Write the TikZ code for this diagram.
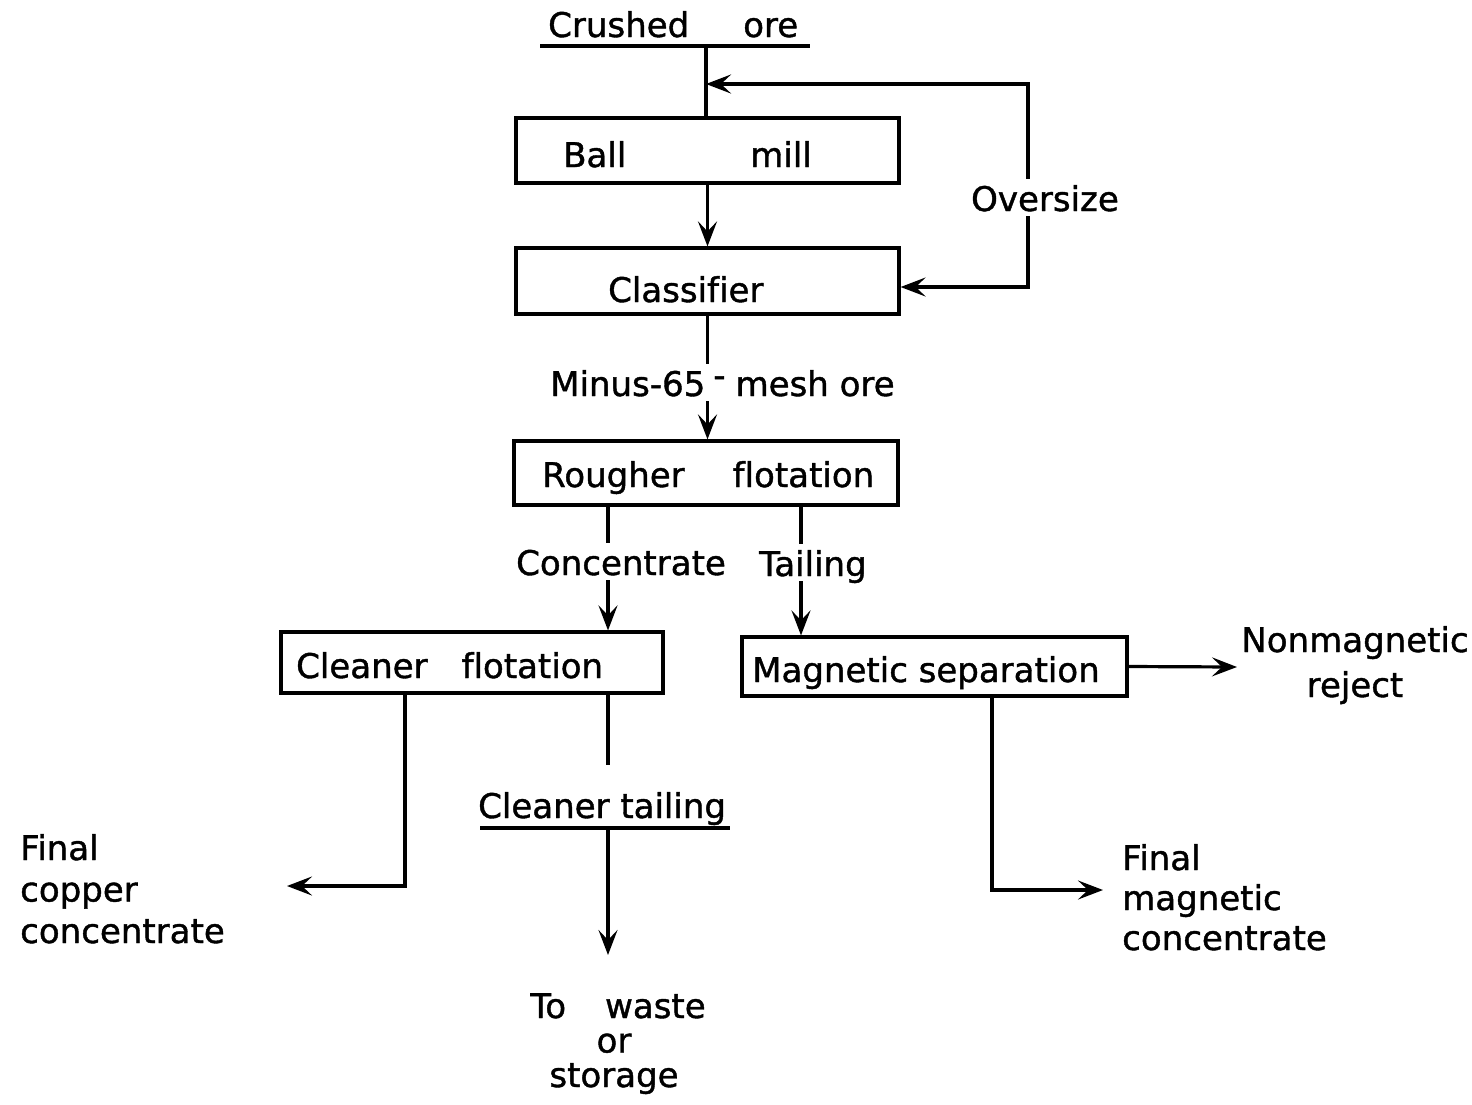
\documentclass[tikz,border=0pt]{standalone}
\usepackage{fontspec}
\setmainfont[Ligatures=NoCommon, FakeBold=1.2]{DejaVu Sans}
\usetikzlibrary{arrows.meta}
\begin{document}
\begin{tikzpicture}[x=1pt,y=-1pt,
  every node/.style={font=\fontsize{34}{41}\selectfont, inner sep=0pt},
  box/.style={draw, line width=3.2pt, rectangle},
  flow/.style={line width=3.2pt},
  tip/.tip={Stealth[length=25pt,width=19pt,inset=10pt]},
  arr/.style={flow, -tip},
  gaplabel/.style={fill=white, text height=27pt, text depth=0pt, inner xsep=2pt, inner ysep=5pt},
]
\useasboundingbox (0,0) rectangle (1472,1104);

% boxes
\node[box, minimum width=383pt, minimum height=65pt] (ball) at (707.5,150.5) {};
\node[box, minimum width=383pt, minimum height=66pt] (class) at (707.5,281) {};
\node[box, minimum width=384pt, minimum height=64pt] (rough) at (706,473) {};
\node[box, minimum width=382pt, minimum height=61pt] (clean) at (472,662.5) {};
\node[box, minimum width=385pt, minimum height=59pt] (mag) at (934.5,666.5) {};

% box texts
\node[anchor=base west] (ballT) at (563,167) {Ball\hspace{124pt}mill};
\node[anchor=base west] (classT) at (608,302) {Classifier};
\node[anchor=base west] (roughT) at (542,487) {Rougher\hspace{48pt}flotation};
\node[anchor=base west] (cleanT) at (296,678) {Cleaner\hspace{34pt}flotation};
\node[anchor=base west] (magT) at (752,682) {Magnetic separation};

% feed
\node[anchor=base west] (crushed) at (548,37) {Crushed\hspace{54pt}ore};
\coordinate (coreL) at (540,46);
\coordinate (coreR) at (810,46);
\coordinate (feedTop) at (706,46);
\draw[flow] (coreL) -- (coreR);
\draw[flow] (feedTop) -- (feedTop |- ball.north);

% oversize loop
\coordinate (feedJoin) at (706,84);
\coordinate (ovTop) at (1028,84);
\coordinate (ovBot) at (1028,287);
\draw[flow, tip-tip] (feedJoin) -- (ovTop) -- (ovBot) -- (ovBot -| class.east);
\node[gaplabel, anchor=base] (oversize) at (1045,211) {Oversize};

% ball -> classifier
\draw[arr] (ball.south) -- (class.north);

% classifier -> rougher
\draw[arr] (class.south) -- (class.south |- rough.north);
\node[gaplabel, anchor=base west] (minus) at (548,396) {Minus-65\hspace{8pt}\raisebox{9pt}{-}\hspace{10pt}mesh ore};

% rougher -> cleaner / magnetic
\coordinate (concX) at (608,0);
\coordinate (tailX) at (801,0);
\draw[arr] (concX |- rough.south) -- (concX |- clean.north);
\draw[arr] (tailX |- rough.south) -- (tailX |- mag.north);
\node[gaplabel, anchor=base west] (conc) at (514,575) {Concentrate};
\node[gaplabel, anchor=base west] (tail) at (757,576) {Tailing};

% magnetic outputs
\coordinate (nmTip) at (1237,667);
\draw[arr] (mag.east) -- (nmTip);
\node[align=center, anchor=base, font=\fontsize{34}{45}\selectfont] (nonmag) at (1355,697) {Nonmagnetic\\reject};
\coordinate (magTurn) at (992,890);
\coordinate (fmTip) at (1103,890);
\draw[arr] (magTurn |- mag.south) -- (magTurn) -- (fmTip);
\node[align=left, anchor=base west, font=\fontsize{34}{40}\selectfont] (fmag) at (1122,950) {Final\\magnetic\\concentrate};

% cleaner outputs
\coordinate (cuTurn) at (405,886);
\coordinate (cuTip) at (287,886);
\draw[arr] (cuTurn |- clean.south) -- (cuTurn) -- (cuTip);
\node[align=left, anchor=base west, font=\fontsize{34}{41.5}\selectfont] (fcu) at (20,943) {Final\\copper\\concentrate};

\coordinate (ctStem) at (608,765);
\draw[flow] (clean.south -| ctStem) -- (ctStem);
\node[anchor=base west] (ctail) at (478,818) {Cleaner tailing};
\coordinate (ctL) at (480,828);
\coordinate (ctR) at (730,828);
\coordinate (ctMid) at (608,828);
\coordinate (wasteTip) at (608,955);
\draw[flow] (ctL) -- (ctR);
\draw[arr] (ctMid) -- (wasteTip);
\node[align=center, anchor=base, font=\fontsize{34}{34.5}\selectfont] (waste) at (614,1087) {\hspace{8pt}To\hspace{39pt}waste\\or\\storage};
\end{tikzpicture}
\end{document}
